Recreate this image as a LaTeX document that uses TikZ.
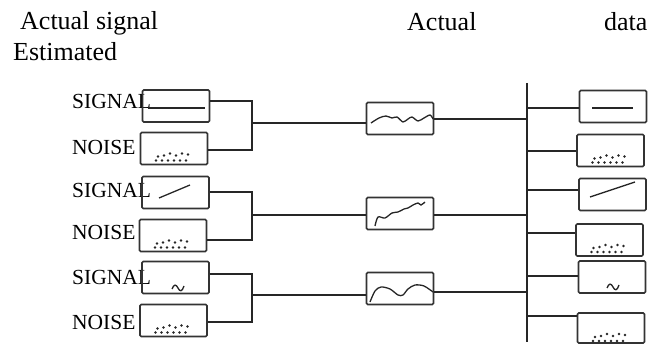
\documentclass[tikz,border=0pt]{standalone}
\usepackage{fontspec}
\setmainfont{Liberation Serif}
\begin{document}
\begin{tikzpicture}[x=1pt,y=-1pt,
  line/.style={line width=1.3pt, draw=black!85},
  box/.style={draw=black!80, line width=1.6pt, rounded corners=1.2pt, rectangle, minimum width=67pt, minimum height=32pt, inner sep=0pt},
  head/.style={font=\fontsize{26}{30}\selectfont, anchor=base west, inner sep=0pt},
  lbl/.style={font=\fontsize{21.5}{24}\selectfont, anchor=base west, inner sep=0pt},
  wave/.style={line width=1.3pt, draw=black!85},
  noisedots/.pic={\foreach \px/\py in {-16/8,-10/7,-4/5,2/7,8/5,14/6,-18/12,-12/12,-6/12,0/12,6/12,12/12}
      \fill[black!85] (\px,\py) circle (1.35pt);}
]
\useasboundingbox (0,0) rectangle (657,344);

% headings
\node[head] (h1) at (20,30) {Actual signal};
\node[head] (h2) at (13,61) {Estimated};
\node[head] (h3) at (407,31) {Actual};
\node[head] (h4) at (604,31) {data};

% left labels
\node[lbl] (ls1) at (72,109) {SIGNAL};
\node[lbl] (ln1) at (72,155) {NOISE};
\node[lbl] (ls2) at (72,198) {SIGNAL};
\node[lbl] (ln2) at (72,240) {NOISE};
\node[lbl] (ls3) at (72,285) {SIGNAL};
\node[lbl] (ln3) at (72,330) {NOISE};

% left boxes
\node[box] (s1) at (176,106) {};
\node[box] (n1) at (174,148.5) {};
\node[box] (s2) at (175.5,192.5) {};
\node[box] (n2) at (173,235.5) {};
\node[box] (s3) at (175.5,277.5) {};
\node[box] (n3) at (173.5,320.5) {};

% left contents
\draw[line] (148,108) -- (205,108);
\draw[line] (159,198) -- (190,185);
\draw[line] (172,289) .. controls (174,284) and (176,284) .. (178,288) .. controls (180,292) and (182,292) .. (184,286);
\pic at (n1.center) {noisedots};
\pic at (n2.center) {noisedots};
\pic at (n3.center) {noisedots};

% middle boxes
\node[box] (m1) at (400,118.5) {};
\node[box] (m2) at (400,213.5) {};
\node[box] (m3) at (400,288.5) {};

\draw[wave] plot[smooth] coordinates {(371,123) (379,118) (386,116) (392,118) (397,117) (403,122) (408,119) (412,117) (418,121) (424,118) (430,115) (433,119)};
\draw[wave] plot[smooth] coordinates {(375,226) (378,217) (385,218) (392,213) (398,212) (404,209) (408,208) (413,205) (418,203) (421,205) (425,202)};
\draw[wave] plot[smooth] coordinates {(370,302) (375,291) (381,287) (390,289) (398,295) (403,295) (408,289) (415,285) (424,286) (433,292)};

% brackets
\coordinate (b1t) at (252,101); \coordinate (b1b) at (252,150); \coordinate (b1m) at (252,123);
\coordinate (b2t) at (252,192); \coordinate (b2b) at (252,240); \coordinate (b2m) at (252,215);
\coordinate (b3t) at (252,274); \coordinate (b3b) at (252,322); \coordinate (b3m) at (252,295);
\draw[line] (s1.east |- b1t) -- (b1t) -- (b1b) -- (n1.east |- b1b);
\draw[line] (s2.east |- b2t) -- (b2t) -- (b2b) -- (n2.east |- b2b);
\draw[line] (s3.east |- b3t) -- (b3t) -- (b3b) -- (n3.east |- b3b);
\draw[line] (b1m) -- (m1.west |- b1m);
\draw[line] (b2m) -- (m2.west |- b2m);
\draw[line] (b3m) -- (m3.west |- b3m);

% bus
\coordinate (bust) at (527,83); \coordinate (busb) at (527,342);
\draw[line] (bust) -- (busb);
\coordinate (o1) at (527,119); \coordinate (o2) at (527,215); \coordinate (o3) at (527,292);
\draw[line] (m1.east |- o1) -- (o1);
\draw[line] (m2.east |- o2) -- (o2);
\draw[line] (m3.east |- o3) -- (o3);

% right boxes
\node[box] (r1) at (613,106.5) {};
\node[box] (r2) at (610.5,150.5) {};
\node[box] (r3) at (612.5,194.5) {};
\node[box] (r4) at (609.5,240) {};
\node[box] (r5) at (612,277) {};
\node[box, minimum height=30pt] (r6) at (611,328) {};

\coordinate (t1) at (527,108); \coordinate (t2) at (527,151); \coordinate (t3) at (527,190);
\coordinate (t4) at (527,233); \coordinate (t5) at (527,276); \coordinate (t6) at (527,316);
\draw[line] (t1) -- (r1.west |- t1);
\draw[line] (t2) -- (r2.west |- t2);
\draw[line] (t3) -- (r3.west |- t3);
\draw[line] (t4) -- (r4.west |- t4);
\draw[line] (t5) -- (r5.west |- t5);
\draw[line] (t6) -- (r6.west |- t6);

\draw[line] (592,108) -- (633,108);
\draw[line] (590,197) -- (635,182);
\draw[line] (607,288) .. controls (609,283) and (611,283) .. (613,287) .. controls (615,291) and (617,291) .. (619,285);
\pic at (r2.center) {noisedots};
\pic at (r4.center) {noisedots};
\pic at ([yshift=-1pt]r6.center) {noisedots};
\end{tikzpicture}
\end{document}
